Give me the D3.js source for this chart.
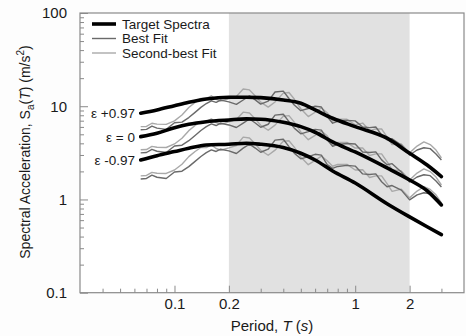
<!DOCTYPE html>
<html>
<head>
<meta charset="utf-8">
<script src="https://cdn.jsdelivr.net/npm/d3@7"></script>
<style>
  html, body { margin: 0; padding: 0; background: #fdfdfd; }
  svg { display: block; font-family: "Liberation Sans", Arial, Helvetica, sans-serif; }
</style>
</head>
<body>
<svg id="chart" width="466" height="336"></svg>
<script>
// ---------- data ----------
const targetPeriods = [0.065, 0.08, 0.1, 0.12, 0.15, 0.2, 0.25, 0.3, 0.4, 0.5, 0.6, 0.75, 1, 1.5, 2, 2.5, 3];
const targetUpper = [8.41, 9.13, 10.15, 11.04, 11.98, 12.5, 12.5, 12.37, 11.69, 10.77, 9.13, 7.43, 6.04, 4.54, 3.13, 2.34, 1.76];
const targetMid   = [4.72, 5.13, 5.89, 6.41, 6.83, 7.13, 7.31, 7.26, 6.73, 6.04, 5.26, 4.14, 3.23, 2.18, 1.62, 1.24, 0.873];
const targetLow   = [2.65, 2.95, 3.26, 3.54, 3.84, 3.91, 4.01, 3.91, 3.6, 3.13, 2.65, 2.02, 1.5, 0.9, 0.65, 0.51, 0.42];

const fitPeriods = [0.065, 0.07, 0.075, 0.08, 0.09, 0.1, 0.11, 0.12, 0.13, 0.14, 0.15, 0.16, 0.17, 0.18, 0.2, 0.22,
  0.24, 0.26, 0.28, 0.3, 0.33, 0.36, 0.4, 0.43, 0.46, 0.5, 0.55, 0.6, 0.65, 0.7, 0.75, 0.8, 0.9, 1.0, 1.1, 1.2, 1.3,
  1.4, 1.5, 1.6, 1.8, 2.0, 2.2, 2.4, 2.6, 2.8, 3.0];

const bestUpper = [5.59, 5.65, 6.11, 5.82, 5.65, 6.64, 6.76, 7.56, 8.60, 9.72, 10.69, 11.43, 10.99, 11.63, 11.15, 10.46,
  11.66, 12.90, 11.70, 10.53, 11.35, 14.21, 14.53, 12.11, 10.30, 8.96, 9.45, 10.00, 9.81, 7.73, 6.58, 6.89, 7.06, 6.96,
  5.98, 5.90, 5.99, 4.92, 4.37, 4.48, 3.84, 3.00, 3.39, 3.59, 3.51, 3.08, 2.65];
const secondUpper = [6.04, 6.07, 6.57, 6.43, 6.39, 6.97, 8.04, 9.68, 11.01, 12.12, 12.11, 12.94, 11.82, 11.35, 12.02, 12.74,
  15.29, 14.96, 12.90, 11.06, 9.79, 11.10, 13.82, 14.04, 11.95, 9.40, 7.75, 8.62, 9.58, 8.53, 6.92, 7.24, 7.24, 6.30,
  6.60, 5.48, 5.70, 5.70, 4.70, 3.87, 3.94, 3.16, 3.74, 4.15, 3.88, 3.39, 2.79];

const bestMid = [3.16, 3.19, 3.45, 3.29, 3.19, 3.75, 3.82, 4.27, 4.86, 5.49, 6.04, 6.46, 6.21, 6.57, 6.30, 5.91,
  6.59, 7.29, 6.61, 5.95, 6.41, 8.03, 8.21, 6.84, 5.82, 5.06, 5.34, 5.65, 5.54, 4.37, 3.72, 3.89, 3.99, 3.93,
  3.23, 3.19, 3.24, 2.66, 2.36, 2.42, 1.97, 1.54, 1.74, 1.84, 1.80, 1.58, 1.36];
const secondMid = [3.41, 3.43, 3.71, 3.63, 3.61, 3.94, 4.54, 5.47, 6.22, 6.85, 6.84, 7.31, 6.68, 6.41, 6.79, 7.20,
  8.64, 8.45, 7.29, 6.25, 5.53, 6.27, 7.81, 7.93, 6.75, 5.31, 4.38, 4.87, 5.41, 4.82, 3.91, 4.09, 4.09, 3.56,
  3.57, 2.96, 3.08, 3.08, 2.54, 2.09, 2.02, 1.62, 1.92, 2.13, 1.99, 1.74, 1.43];

const bestLow = [1.66, 1.68, 1.82, 1.73, 1.68, 1.97, 2.01, 2.25, 2.56, 2.89, 3.18, 3.40, 3.27, 3.46, 3.32, 3.11,
  3.55, 3.93, 3.56, 3.21, 3.46, 4.33, 4.43, 3.69, 3.14, 2.73, 2.88, 3.05, 2.99, 2.36, 2.16, 2.26, 2.32, 2.28,
  1.88, 1.85, 1.88, 1.55, 1.37, 1.41, 1.26, 0.99, 1.12, 1.18, 1.15, 1.01, 0.87];
const secondLow = [1.79, 1.81, 1.95, 1.91, 1.90, 2.07, 2.39, 2.88, 3.27, 3.61, 3.60, 3.85, 3.52, 3.37, 3.57, 3.79,
  4.66, 4.56, 3.93, 3.37, 2.98, 3.38, 4.21, 4.27, 3.64, 2.86, 2.36, 2.63, 2.92, 2.60, 2.27, 2.38, 2.38, 2.07,
  2.08, 1.72, 1.79, 1.79, 1.48, 1.22, 1.29, 1.04, 1.23, 1.37, 1.28, 1.12, 0.92];

const xMajorTicks = [0.1, 0.2, 1, 2];
const xMinorTicks = [0.04, 0.05, 0.06, 0.07, 0.08, 0.09, 0.3, 0.4, 0.5, 0.6, 0.7, 0.8, 0.9, 3];
const yMajorTicks = [0.1, 1, 10, 100];
const yMinorTicks = [0.2, 0.3, 0.4, 0.5, 0.6, 0.7, 0.8, 0.9, 2, 3, 4, 5, 6, 7, 8, 9, 20, 30, 40, 50, 60, 70, 80, 90];
const shadeRange = [0.2, 2];
const epsLabels = [
  { text: "\u03b5 +0.97", at: targetUpper[0] },
  { text: "\u03b5 = 0", at: targetMid[0] },
  { text: "\u03b5 -0.97", at: targetLow[0] }
];
const legendItems = ["Target Spectra", "Best Fit", "Second-best Fit"];

// ---------- layout ----------
const svg = d3.select("#chart");
const L = 80, R = 464, T = 13, B = 292.7;
const x = d3.scaleLog().domain([0.03, 4]).range([L, R]);
const y = d3.scaleLog().domain([0.1, 100]).range([B, T]);

const colTarget = "#000", colBest = "#6a6a6a", colSecond = "#a9a9a9", colAxis = "#8a8a8a", colText = "#1a1a1a";

svg.append("rect").attr("x", L).attr("y", T).attr("width", R - L).attr("height", B - T).attr("fill", "#ffffff");
svg.append("rect")
  .attr("x", x(shadeRange[0])).attr("y", T)
  .attr("width", x(shadeRange[1]) - x(shadeRange[0])).attr("height", B - T)
  .attr("fill", "#e1e1e1");

// ---------- lines ----------
const lineFit = d3.line().x(d => x(d[0])).y(d => y(d[1]));
const lineTarget = d3.line().x(d => x(d[0])).y(d => y(d[1])).curve(d3.curveMonotoneX);

const fits = [
  { v: secondUpper, c: colSecond }, { v: bestUpper, c: colBest },
  { v: secondMid, c: colSecond }, { v: bestMid, c: colBest },
  { v: secondLow, c: colSecond }, { v: bestLow, c: colBest }
];
fits.forEach(f => {
  svg.append("path")
    .datum(fitPeriods.map((p, i) => [p, f.v[i]]))
    .attr("d", lineFit).attr("fill", "none")
    .attr("stroke", f.c).attr("stroke-width", 1.4).attr("stroke-linejoin", "round");
});

[targetUpper, targetMid, targetLow].forEach(vals => {
  svg.append("path")
    .datum(targetPeriods.map((p, i) => [p, vals[i]]))
    .attr("d", lineTarget).attr("fill", "none")
    .attr("stroke", colTarget).attr("stroke-width", 3.6).attr("stroke-linecap", "round");
});

// ---------- axes ----------
const fmt = d => String(d);
const xAxisMajor = d3.axisBottom(x).tickValues(xMajorTicks).tickFormat(fmt).tickSizeInner(-7).tickSizeOuter(0).tickPadding(6);
const xAxisMinor = d3.axisBottom(x).tickValues(xMinorTicks).tickFormat("").tickSizeInner(-4).tickSizeOuter(0);
const yAxisMajor = d3.axisLeft(y).tickValues(yMajorTicks).tickFormat(fmt).tickSizeInner(-8).tickSizeOuter(0).tickPadding(13);
const yAxisMinor = d3.axisLeft(y).tickValues(yMinorTicks).tickFormat("").tickSizeInner(-4).tickSizeOuter(0);

function styleAxis(g) {
  g.select(".domain").remove();
  g.selectAll(".tick line").attr("stroke", colAxis).attr("stroke-width", 1);
  g.selectAll(".tick text").attr("fill", colText).style("font-size", "15px");
}
svg.append("g").attr("transform", `translate(0,${B})`).call(xAxisMinor).call(styleAxis);
svg.append("g").attr("transform", `translate(0,${B})`).call(xAxisMajor).call(styleAxis);
svg.append("g").attr("transform", `translate(${L},0)`).call(yAxisMinor).call(styleAxis);
svg.append("g").attr("transform", `translate(${L},0)`).call(yAxisMajor).call(styleAxis);

svg.append("rect").attr("x", L).attr("y", T).attr("width", R - L).attr("height", B - T)
  .attr("fill", "none").attr("stroke", colAxis).attr("stroke-width", 1.2);

// ---------- titles ----------
const xt = svg.append("text").attr("x", (L + R) / 2).attr("y", 331).attr("text-anchor", "middle")
  .attr("fill", colText).style("font-size", "15px");
xt.append("tspan").text("Period, ");
xt.append("tspan").attr("font-style", "italic").text("T");
xt.append("tspan").text(" (");
xt.append("tspan").attr("font-style", "italic").text("s");
xt.append("tspan").text(")");

const yt = svg.append("text")
  .attr("transform", `translate(30,152) rotate(-90)`)
  .attr("text-anchor", "middle").attr("fill", colText).style("font-size", "14px");
yt.append("tspan").text("Spectral Acceleration, S");
yt.append("tspan").attr("dy", 4).style("font-size", "10px").text("a");
yt.append("tspan").attr("dy", -4).text("(");
yt.append("tspan").attr("font-style", "italic").text("T");
yt.append("tspan").text(")  (m/s");
yt.append("tspan").attr("dy", -6).style("font-size", "10px").text("2");
yt.append("tspan").attr("dy", 6).text(")");

// ---------- epsilon labels ----------
epsLabels.forEach(e => {
  svg.append("text").attr("x", 135).attr("y", y(e.at) + 5).attr("text-anchor", "end")
    .attr("fill", colText).style("font-size", "13.5px").text(e.text);
});

// ---------- legend ----------
const legColors = [colTarget, colBest, colSecond];
const legWidths = [3.6, 1.4, 1.4];
legendItems.forEach((name, i) => {
  const ly = 24 + i * 14.5;
  svg.append("line").attr("x1", 92).attr("x2", 116).attr("y1", ly).attr("y2", ly)
    .attr("stroke", legColors[i]).attr("stroke-width", legWidths[i]);
  svg.append("text").attr("x", 122).attr("y", ly + 4.5).attr("fill", colText)
    .style("font-size", "13.5px").text(name);
});
</script>
</body>
</html>
